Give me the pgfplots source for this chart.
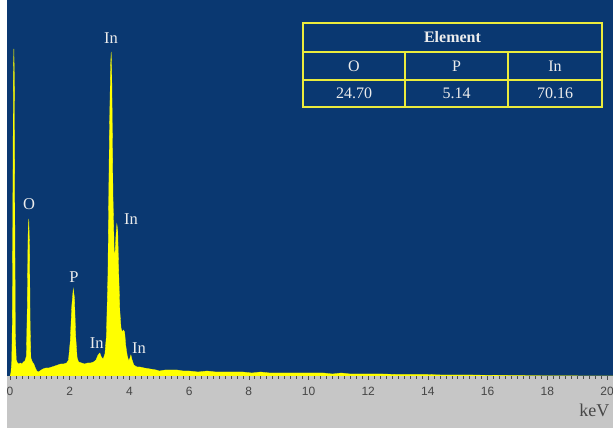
\documentclass[border=0pt]{standalone}
\usepackage{pgfplots}
\pgfplotsset{compat=1.18}
\usepackage{fontspec}
\setmainfont{Liberation Serif}
\newfontfamily\arial{Liberation Sans}
\definecolor{bgblue}{RGB}{10,56,113}
\definecolor{specyellow}{RGB}{255,255,0}
\definecolor{tabyellow}{RGB}{235,235,60}
\definecolor{panelgray}{RGB}{198,198,198}
\definecolor{ticklab}{RGB}{70,70,70}
\definecolor{labwhite}{RGB}{236,236,236}
\begin{document}
\begin{tikzpicture}[x=1pt,y=1pt]
\useasboundingbox (0,0) rectangle (613,428);
\fill[white] (0,0) rectangle (613,428);
\fill[panelgray] (7,0) rectangle (613,52);
\begin{axis}[
  at={(7pt,52pt)}, anchor=south west,
  scale only axis, width=606pt, height=376pt,
  xmin=-0.1, xmax=20.2, ymin=0, ymax=376,
  axis background/.style={fill=bgblue},
  axis x line*=bottom, axis y line=none,
  axis line style={draw=none},
  xtick={0,2,...,20}, minor x tick num=9,
  tick align=outside,
  major tick length=4pt, minor tick length=3pt,
  every tick/.style={color=gray!60!black, line width=0.6pt},
  tick label style={/pgf/number format/assume math mode=true},
  xticklabel style={font=\arial\fontsize{12}{12}\selectfont, text=ticklab, yshift=-4pt},
  clip=true,
]
\addplot[fill=specyellow, draw=specyellow, line width=0.3pt] coordinates {
(0.00,0) (0.03,3) (0.06,15) (0.08,60) (0.10,200) (0.115,300) (0.13,327) (0.145,300) (0.16,170) (0.18,40) (0.21,16)
(0.25,13) (0.30,12) (0.35,13) (0.40,12) (0.45,14) (0.50,15) (0.55,20) (0.58,70) (0.605,140) (0.63,157) (0.655,130) (0.675,50) (0.70,18)
(0.75,14) (0.80,12) (0.85,8) (0.90,5) (0.95,4) (1.00,5) (1.05,6) (1.10,7) (1.20,8) (1.30,8) (1.40,9) (1.50,10) (1.60,11) (1.70,12) (1.80,12) (1.90,13) (1.96,16)
(2.02,35) (2.07,70) (2.12,87) (2.16,78) (2.20,40) (2.25,18) (2.30,14) (2.40,13) (2.50,12) (2.60,13) (2.70,13) (2.80,14) (2.88,16)
(2.95,21) (3.01,23) (3.06,19) (3.12,17) (3.18,22) (3.23,40) (3.28,100) (3.33,240) (3.37,310) (3.39,324) (3.41,300) (3.45,180) (3.49,125)
(3.52,122) (3.55,140) (3.58,152) (3.61,145) (3.64,105) (3.68,65) (3.72,48) (3.76,44) (3.80,46) (3.84,44) (3.88,30) (3.93,20) (3.98,15)
(4.02,18) (4.05,21) (4.09,16) (4.15,11) (4.25,9) (4.35,9) (4.5,8) (4.7,7) (4.9,6) (5.0,5) (5.2,6) (5.4,6) (5.6,6) (5.8,5)
(6.0,5) (6.3,4) (6.6,5) (6.9,4) (7.2,4) (7.5,4) (7.8,4) (8.1,3) (8.4,4) (8.7,3) (9.0,3) (9.3,3) (9.6,3) (9.9,3)
(10.2,3) (10.5,3) (10.8,2) (11.1,3) (11.4,2) (11.7,2) (12.0,2) (12.5,2) (13.0,1.5) (13.5,1.5) (14.0,1.5) (14.5,1) (15.0,1)
(15.5,1) (16.0,0.7) (17.0,0.4) (18.0,0.2) (19.0,0.1) (20.2,0)
} \closedcycle;
\begin{scope}[every node/.style={font=\fontsize{16.5}{16.5}\selectfont, text=labwhite}]
\node at (axis cs:3.38,338) {In};
\node at (axis cs:0.64,172) {O};
\node at (axis cs:4.05,157) {In};
\node at (axis cs:2.14,99) {P};
\node at (axis cs:2.91,33) {In};
\node at (axis cs:4.32,28) {In};
\end{scope}
\end{axis}
% keV label
\node[anchor=base east, font=\fontsize{18}{18}\selectfont, text=ticklab] at (613,11) {keV};
% composition table
\draw[tabyellow, line width=1.4pt] (303,321) rectangle (602,405);
\draw[tabyellow, line width=1.4pt] (303,376) -- (602,376);
\draw[tabyellow, line width=1.4pt] (303,348) -- (602,348);
\draw[tabyellow, line width=1.4pt] (405,321) -- (405,376);
\draw[tabyellow, line width=1.4pt] (508,321) -- (508,376);
\begin{scope}[every node/.style={font=\fontsize{16}{16}\selectfont, text=labwhite}]
\node at (452.5,390.5) {\textbf{Element}};
\node at (354,362) {O};
\node at (456.5,362) {P};
\node at (555,362) {In};
\node at (354,334.5) {24.70};
\node at (456.5,334.5) {5.14};
\node at (555,334.5) {70.16};
\end{scope}
\end{tikzpicture}
\end{document}
